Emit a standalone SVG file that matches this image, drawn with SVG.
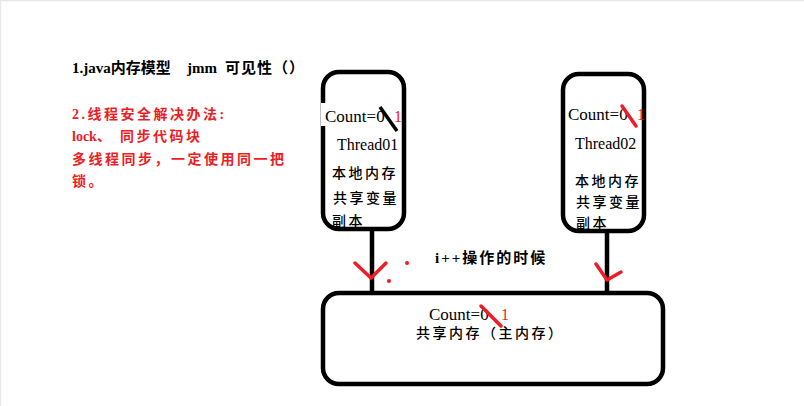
<svg xmlns="http://www.w3.org/2000/svg" width="804" height="406" viewBox="0 0 804 406">
<style>
text{font-family:"Liberation Serif","Noto Sans CJK SC",serif;fill:#000}
.t{font-size:15px;font-weight:bold}
.r{fill:#ee1c24;font-size:14px;letter-spacing:2.5px;font-weight:bold}
.lat{letter-spacing:0}
.cnt{font-size:17px}
.th{font-size:16px}
.cn{font-size:14px;letter-spacing:2.5px;font-weight:500}
.one{fill:#ee1c24;font-size:16px}
.box{fill:#fff;stroke:#000;stroke-width:4.5}
.ln{stroke:#000;stroke-width:4.5;fill:none}
.red{stroke:#ee1c24;stroke-width:3.5;fill:none;stroke-linecap:round;stroke-linejoin:round}
</style>
<rect x="0" y="0" width="804" height="406" fill="#fff"/>
<path d="M0.5 406V0.5H804" stroke="#e8e8e8" stroke-width="1.5" fill="none"/>

<g id="notes">
<text class="t" x="72" y="73">1.java内存模型<tspan x="187">jmm</tspan><tspan x="225" style="letter-spacing:1px">可见性（）</tspan></text>
<text class="r" x="72" y="119">2.线程安全解决办法:</text>
<text class="r" x="72" y="141"><tspan class="lat">lock</tspan>、<tspan x="120">同步代码块</tspan></text>
<text class="r" x="72" y="164">多线程同步，一定使用同一把</text>
<text class="r" x="72" y="186">锁。</text>
</g>

<g id="connectors">
<line class="ln" x1="372" y1="229" x2="372" y2="294"/>
<line class="ln" x1="607" y1="231" x2="607" y2="294"/>
<polyline class="red" points="355,263 371,278 386,263"/>
<polyline class="red" points="596,264 607,280 621,272"/>
<circle cx="407" cy="263" r="2" fill="#ee1c24"/>
<circle cx="389" cy="281" r="2" fill="#ee1c24"/>
<text class="t" x="435" y="263" style="letter-spacing:2px">i++操作的时候</text>
</g>

<g id="thread01">
<rect class="box" x="323" y="72" width="81" height="157" rx="16"/>
<rect x="321" y="103" width="68" height="23" fill="#fff"/>
<text class="cnt" x="325" y="122">Count=0</text>
<text class="one" x="394" y="122">1</text>
<line x1="380" y1="107" x2="397" y2="131" stroke="#000" stroke-width="3.5"/>
<text class="th" x="337" y="150">Thread01</text>
<text class="cn" x="332" y="178">本地内存</text>
<text class="cn" x="333" y="203">共享变量</text>
<text class="cn" x="332" y="226">副本</text>
</g>

<g id="thread02">
<rect class="box" x="563" y="74" width="81" height="157" rx="16"/>
<text class="cnt" x="568" y="120">Count=0</text>
<text class="one" x="637" y="120">1</text>
<line class="red" x1="622" y1="106" x2="636" y2="126"/>
<text class="th" x="575" y="149">Thread02</text>
<text class="cn" x="575" y="186">本地内存</text>
<text class="cn" x="576" y="207">共享变量</text>
<text class="cn" x="576" y="228">副本</text>
</g>

<g id="main-memory">
<rect class="box" x="323" y="293" width="340" height="91" rx="16"/>
<text class="cnt" x="429" y="320">Count=0</text>
<text class="one" x="501" y="320">1</text>
<line class="red" x1="481" y1="306" x2="501" y2="326"/>
<text class="cn" x="416" y="338" style="letter-spacing:2.5px">共享内存（主内存）</text>
</g>
</svg>
